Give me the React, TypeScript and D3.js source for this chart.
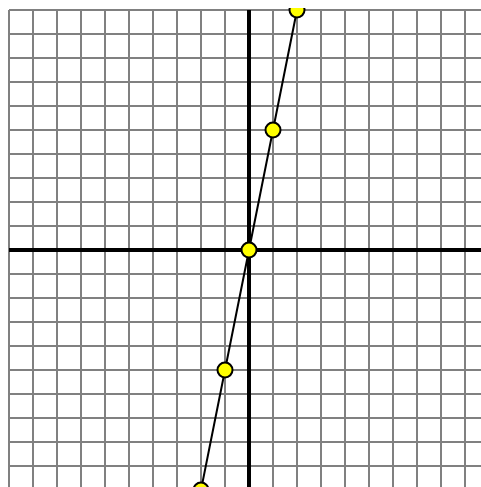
import React, { useLayoutEffect } from "react";
import * as d3 from "d3";

const gridTicks: number[] = d3.range(-10, 11);
const xValues: number[] = [-2, -1, 0, 1, 2];
const yValues: number[] = [-10, -5, 0, 5, 10];

export default function App() {
  useLayoutEffect(() => {
    document.documentElement.style.overflow = "hidden";
    document.body.style.overflow = "hidden";
    document.body.style.marginRight = "0px";
  }, []);
  const width = 473;
  const height = 479;
  const cx = 241;
  const cy = 242;
  const unit = 24;
  const x = d3.scaleLinear().domain([-10, 10]).range([cx - 10 * unit, cx + 10 * unit]);
  const y = d3.scaleLinear().domain([-10, 10]).range([cy + 10 * unit, cy - 10 * unit]);
  const pts = xValues.map((v, i) => [v, yValues[i]] as [number, number]);
  const line = d3.line<[number, number]>().x(d => x(d[0])).y(d => y(d[1]));
  return (
    <svg width={width} height={height} style={{ display: "block", overflow: "hidden" }}>
      <rect x={0} y={0} width={width} height={height} fill="#fff" />
      {gridTicks.map(t => (
        <line key={"v" + t} x1={x(t)} x2={x(t)} y1={y(10)} y2={y(-10)} stroke="#808080" strokeWidth={2} />
      ))}
      {gridTicks.map(t => (
        <line key={"h" + t} y1={y(t)} y2={y(t)} x1={x(-10)} x2={x(10)} stroke="#808080" strokeWidth={2} />
      ))}
      <line x1={x(0)} x2={x(0)} y1={y(10)} y2={y(-10)} stroke="#000" strokeWidth={4} />
      <line y1={y(0)} y2={y(0)} x1={x(-10)} x2={x(10)} stroke="#000" strokeWidth={4} />
      <path d={line(pts) || ""} fill="none" stroke="#000" strokeWidth={2} />
      {pts.map((p, i) => (
        <circle key={i} cx={x(p[0])} cy={y(p[1])} r={7.5} fill="#ffff00" stroke="#000" strokeWidth={2} />
      ))}
    </svg>
  );
}
